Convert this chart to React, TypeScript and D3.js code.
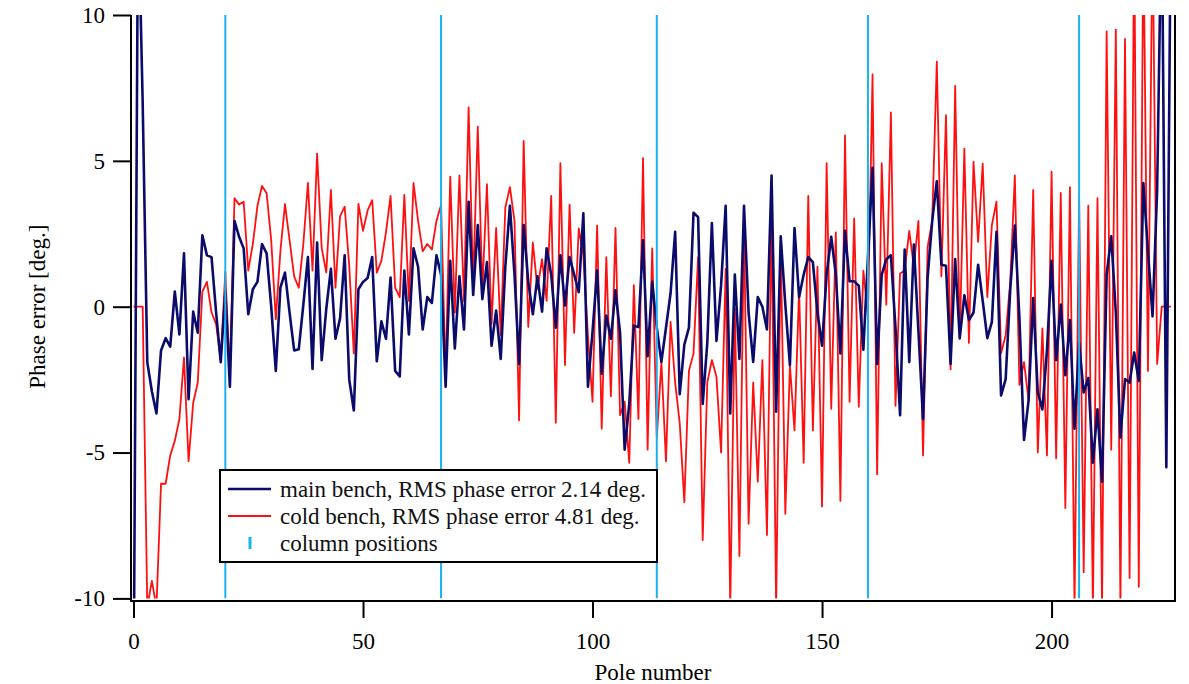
import { useRef, useEffect } from "react";
import * as d3 from "d3";

// phase error per pole
const mainBench = [
    -14, 14, 7, -1.9, -2.9, -3.66, -1.5, -1.08, -1.37, 0.52,
    -0.95, 1.83, -3.17, -0.17, -0.89, 2.45, 1.76, 1.7, -0.2, -1.9,
    0.5, -2.74, 2.94, 2.4, 2.0, -0.26, 0.6, 0.85, 2.15, 1.83,
    0.0, -2.2, 0.65, 1.17, -0.2, -1.5, -1.46, 0.07, 1.7, -2.13,
    2.2, -1.83, -0.07, 1.3, -1.1, -0.4, 1.76, -2.5, -3.56, 0.6,
    0.85, 0.98, 1.7, -1.87, -0.5, -1.1, 1.0, -2.2, -2.39, 1.24,
    -0.95, 2.0, 1.37, -0.78, 0.33, 0.13, 1.76, 1.1, -2.74, 1.57,
    -1.43, 1.04, -0.78, 3.6, 0.4, 2.8, 0.26, 1.53, -1.34, -0.13,
    -1.79, 1.37, 3.46, 1.1, -1.96, 2.8, 0.85, -0.26, 1.04, -0.17,
    2.0, 1.1, -0.72, 1.76, 0.04, 1.7, 1.1, 0.5, 3.2, -2.74,
    -0.85, 1.24, -2.3, -0.3, -1.1, 0.56, -0.9, -4.9, -3.33, -0.65,
    -0.7, 2.28, -1.7, 0.85, -0.72, -1.89, -0.72, 0.46, 2.57, -3.0,
    -1.3, -0.72, 3.22, 3.07, -3.33, -1.24, 2.87, -1.17, 0.72, 3.46,
    -3.66, 1.1, -1.79, 3.46, -0.2, -1.89, 0.33, 0, -0.78, 4.5,
    -3.6, 2.41, 0.07, -2.0, 2.7, 0.33, 1.1, 1.7, 1.53, -0.2,
    -1.34, 1.1, 2.4, 1.1, -1.6, 2.6, 0.87, 0.87, 0.72, -1.47,
    1.7, 4.76, -1.96, 1.1, 1.63, 1.76, -0.72, -3.72, 1.96, -1.89,
    2.13, -0.85, -3.85, 1.0, 2.94, 4.3, 1.44, 1.4, -1.96, 1.63,
    -1.08, 0.39, -0.46, -0.2, 1.44, 0.2, -1.08, -0.52, 2.57, -3.04,
    -2.48, 0.59, 2.78, -0.4, -4.57, -3.2, 0.3, -2.94, -3.52, -1.5,
    1.57, -1.83, 0.07, -2.35, -0.46, -4.18, -1.24, -2.94, -2.44, -5.35,
    -3.52, -6.0, 1.1, 2.41, -0.2, -4.48, -2.48, -2.6, -1.57, -2.55,
    4.24, 1.9, -0.33, 4, 14, -5.5, 14,
];

const coldBench = [
    0, 0, 0, -10.3, -9.4, -10.3, -6.07, -6.07, -5.1, -4.6,
    -3.85, -1.74, -5.3, -3.3, -2.6, 0.52, 0.85, -0.2, -0.6, -1.83,
    1.2, -2.3, 3.72, 3.5, 3.6, 1.24, 2.15, 3.46, 4.14, 3.89,
    2.28, -0.43, 1.9, 3.52, 2.28, 1.04, 0.65, 2.15, 4.24, 1.24,
    5.25, 2.0, 1.17, 4.0, 0.65, 3.1, 3.43, 1.4, -1.6, 3.52,
    2.6, 3.3, 3.65, 1.17, 1.57, 2.55, 3.8, 0.65, 0.33, 3.83,
    0.2, 4.24, 2.94, 1.9, 2.15, 1.96, 2.94, 3.49, -2.4, 4.46,
    -0.2, 4.5, 0.2, 6.83, 0.74, 6.17, 0.59, 4.2, -0.59, 2.7,
    -0.98, 3.4, 4.1, 2.94, -3.9, 5.68, -0.69, 2.2, 0.6, 1.63,
    0.2, 3.8, -3.98, 4.92, -2.0, 3.5, -0.9, 2.68, 1.76, -1.0,
    -3.26, 2.78, -4.18, 1.7, -3.07, 2.7, -3.72, -3.26, -5.35, 0.74,
    -3.85, 5.09, -4.9, 2.0, -4.5, -1.9, -5.3, -0.52, -2.6, -4.0,
    -6.7, -2.2, -1.6, 1.7, -8.0, -2.6, -1.83, -2.4, -5.0, 1.3,
    -10.3, -0.07, -8.55, 2.8, -7.44, -2.6, -6.0, -1.83, -7.83, 3.1,
    -10.3, 2.1, -7.1, -2.0, -4.24, 0.6, -5.35, 3.8, -4.24, 1.37,
    -6.85, 4.92, -3.5, 2.55, -6.66, 5.87, -3.26, 3.03, -3.43, 1.24,
    -0.33, 7.96, -5.74, 4.92, 0.07, 6.66, -3.4, 1.14, 1.24, 2.6,
    1.37, 2.94, -5.1, 2.05, 2.94, 8.4, 1.04, 6.57, -2.15, 7.57,
    -1.1, 5.42, -1.24, 4.96, 2.22, 4.9, 0.33, 2.8, 3.6, -1.6,
    -0.98, 0.85, 4.5, -2.68, -1.9, -3.2, 4.0, -5.0, -0.74, -5.1,
    4.63, -5.2, 3.9, -6.9, 4.1, -10.3, 3.76, -9.1, 3.46, -10.3,
    3.72, -10.3, 9.44, -4.9, 9.5, -10.3, 9.18, -9.3, 13, -9.6,
    13, -2.2, 13, -1.96, 0, 0, 0,
];

const columnPositions = [20, 67, 114, 160, 206];
const xTicks = [0, 50, 100, 150, 200];
const yTicks = [-10, -5, 0, 5, 10];
const legendLabels = [
    "main bench, RMS phase error 2.14 deg.",
    "cold bench, RMS phase error 4.81 deg.",
    "column positions",
];

const WIDTH = 1189;
const HEIGHT = 684;
const FONT = "'Liberation Serif', 'Times New Roman', serif";
const FONT_SIZE = 23;
const BLUE = "#0b0b6b";
const RED = "#ff1010";
const CYAN = "#1ab2f0";

const plot = { left: 133.5, right: 1175.5, top: 15, bottom: 598.4 };
const frame = { left: 131, right: 1175, top: 15, bottom: 601 };

interface AxisProps {
    scale: d3.ScaleLinear<number, number>;
}

// plain hyphen for negatives, like the original
const tickText = (d: d3.NumberValue) => String(d);

function AxisLeft({ scale }: AxisProps) {
    const ref = useRef<SVGGElement>(null);

    useEffect(() => {
        if (!ref.current) return;
        const g = d3.select(ref.current);
        g.call(
            d3
                .axisLeft(scale)
                .tickValues(yTicks)
                .tickFormat(tickText)
                .tickSize(18)
                .tickPadding(8)
                .tickSizeOuter(0)
        );
        g.select(".domain").remove();
        g.attr("font-family", FONT).attr("font-size", FONT_SIZE);
        g.selectAll(".tick line").attr("stroke-width", 2);
    }, [scale]);

    return <g ref={ref} transform={`translate(${frame.left}, 0)`} />;
}

function AxisBottom({ scale }: AxisProps) {
    const ref = useRef<SVGGElement>(null);

    useEffect(() => {
        if (!ref.current) return;
        const g = d3.select(ref.current);
        g.call(
            d3
                .axisBottom(scale)
                .tickValues(xTicks)
                .tickFormat(tickText)
                .tickSize(17)
                .tickPadding(15)
                .tickSizeOuter(0)
        );
        g.select(".domain").remove();
        g.attr("font-family", FONT).attr("font-size", FONT_SIZE);
        g.selectAll(".tick line").attr("stroke-width", 2);
    }, [scale]);

    return <g ref={ref} transform={`translate(0, ${frame.bottom})`} />;
}

function Legend() {
    const x0 = 220;
    const y0 = 470;
    const rowY = [489, 516, 543];
    return (
        <g fontFamily={FONT} fontSize={FONT_SIZE}>
            <rect x={x0} y={y0} width={437} height={92} fill="white" stroke="black" strokeWidth={2} />
            <line x1={228} x2={271} y1={rowY[0]} y2={rowY[0]} stroke={BLUE} strokeWidth={2.5} />
            <line x1={228} x2={271} y1={rowY[1]} y2={rowY[1]} stroke={RED} strokeWidth={1.8} />
            <line x1={250} x2={250} y1={rowY[2] - 6} y2={rowY[2] + 6} stroke={CYAN} strokeWidth={3} />
            {legendLabels.map((label, i) => (
                <text key={label} x={280} y={rowY[i]} dy="0.33em" fill="#111">
                    {label}
                </text>
            ))}
        </g>
    );
}

export default function App() {
    const scaleX = d3.scaleLinear().domain([0, 227]).range([plot.left, plot.right]);
    const scaleY = d3.scaleLinear().domain([-10, 10]).range([plot.bottom, plot.top]);

    const line = d3
        .line<number>()
        .x((_, i) => scaleX(i))
        .y((d) => scaleY(d));

    return (
        <svg
            width={WIDTH}
            height={HEIGHT}
            style={{ position: "absolute", left: 0, top: 0, display: "block", background: "white" }}
        >
            <defs>
                <clipPath id="plot-clip">
                    <rect
                        x={frame.left}
                        y={plot.top}
                        width={frame.right - frame.left}
                        height={plot.bottom - plot.top}
                    />
                </clipPath>
            </defs>

            <g clipPath="url(#plot-clip)">
                <path d={line(coldBench) || undefined} fill="none" stroke={RED} strokeWidth={1.8} strokeLinejoin="round" />
                <path d={line(mainBench) || undefined} fill="none" stroke={BLUE} strokeWidth={2.6} strokeLinejoin="round" />
                {columnPositions.map((c) => (
                    <line
                        key={c}
                        x1={scaleX(c)}
                        x2={scaleX(c)}
                        y1={plot.top}
                        y2={plot.bottom}
                        stroke={CYAN}
                        strokeWidth={2}
                    />
                ))}
            </g>

            {/* frame: left, bottom and right lines, no top */}
            <path
                d={`M${frame.left},${frame.top} V${frame.bottom} H${frame.right} V${frame.top}`}
                fill="none"
                stroke="black"
                strokeWidth={2}
            />
            <AxisLeft scale={scaleY} />
            <AxisBottom scale={scaleX} />

            <text
                x={(frame.left + frame.right) / 2}
                y={680}
                textAnchor="middle"
                fontFamily={FONT}
                fontSize={FONT_SIZE}
            >
                Pole number
            </text>
            <text
                transform={`translate(45, ${(plot.top + plot.bottom) / 2}) rotate(-90)`}
                textAnchor="middle"
                fontFamily={FONT}
                fontSize={FONT_SIZE}
            >
                Phase error [deg.]
            </text>

            <Legend />
        </svg>
    );
}
